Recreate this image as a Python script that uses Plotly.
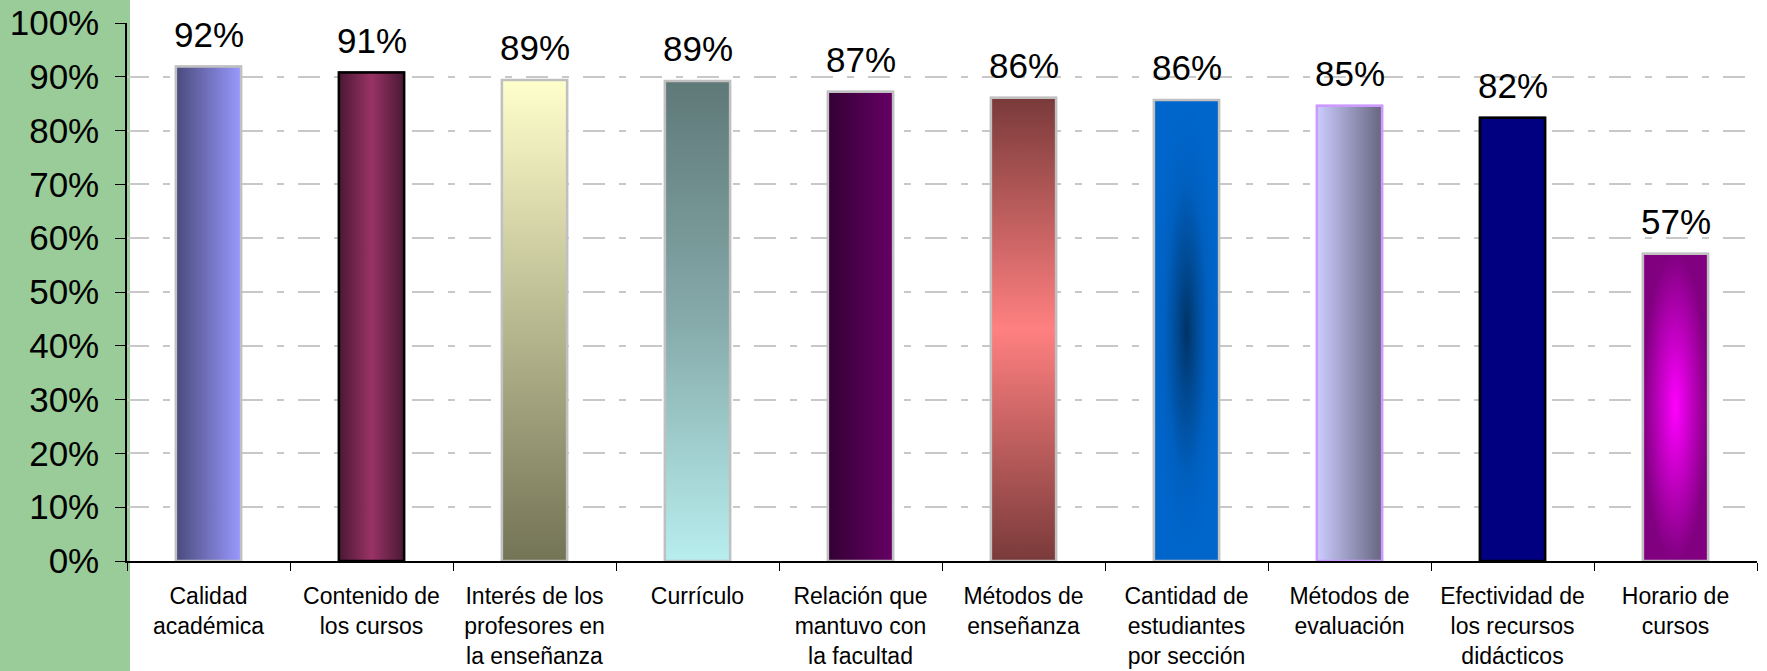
import plotly.graph_objects as go

# ---------------- data ----------------
categories = [
    "Calidad<br>académica",
    "Contenido de<br>los cursos",
    "Interés de los<br>profesores en<br>la enseñanza",
    "Currículo",
    "Relación que<br>mantuvo con<br>la facultad",
    "Métodos de<br>enseñanza",
    "Cantidad de<br>estudiantes<br>por sección",
    "Métodos de<br>evaluación",
    "Efectividad de<br>los recursos<br>didácticos",
    "Horario de<br>cursos",
]
values = [0.919, 0.908, 0.894, 0.892, 0.872, 0.861, 0.857, 0.846, 0.824, 0.571]

# ---------------- styles ----------------
base_colors = ["#7373BD", "#993366", "#BBBB99", "#8FB5B5", "#4D004D",
               "#C05A5A", "#0058B0", "#9999BF", "#000080", "#C000C0"]
border_colors = ["#C0C0C0", "#000000", "#C0C0C0", "#C0C0C0", "#C0C0C0",
                 "#C0C0C0", "#C0C0C0", "#CC99FF", "#000000", "#C0C0C0"]
gradient_types = ["horizontal", "horizontal", "vertical", "vertical", "horizontal",
                  "vertical", "radial", "horizontal", "none", "radial"]
gradient_scales = [
    [[0, "#4A4A7C"], [1, "#9999FF"]],
    [[0, "#4A1833"], [0.5, "#993366"], [1, "#4A1833"]],
    [[0, "#737356"], [1, "#FFFFCC"]],
    [[0, "#B8EEEE"], [0.5, "#86AAAA"], [1, "#5F7878"]],
    [[0, "#330033"], [1, "#660066"]],
    [[0, "#7A3A3A"], [0.5, "#FF8080"], [1, "#7A3A3A"]],
    [[0, "#003366"], [0.3, "#004A94"], [0.65, "#0060C0"], [1, "#0066CC"]],
    [[0, "#CCCCFF"], [1, "#666680"]],
    [[0, "#000080"], [1, "#000080"]],
    [[0, "#FF00FF"], [1, "#800080"]],
]
BAR_WIDTH = 0.4
FONT = "Liberation Sans, Arial, sans-serif"

W, H = 1767, 671
ML, MR, MT, MB = 127, 10, 23, 110
PW, PH = W - ML - MR, H - MT - MB

fig = go.Figure()

fig.add_trace(go.Bar(
    x=categories, y=values, width=BAR_WIDTH,
    marker=dict(color=base_colors, line=dict(color=border_colors, width=2)),
    hoverinfo="skip", showlegend=False,
))

# gradient fills laid over each bar (shape derived from the data values)
hw = BAR_WIDTH / 2
for i, v in enumerate(values):
    kw = {}
    if gradient_types[i] != "none":
        kw["fillgradient"] = dict(type=gradient_types[i], colorscale=gradient_scales[i])
    else:
        kw["fillcolor"] = base_colors[i]
    fig.add_trace(go.Scatter(
        x=[i - hw, i + hw, i + hw, i - hw, i - hw],
        y=[0, 0, v, v, 0],
        xaxis="x2", yaxis="y",
        mode="lines", fill="toself",
        line=dict(color=border_colors[i], width=2.5),
        hoverinfo="skip", showlegend=False, **kw,
    ))

# value labels
for c, v in zip(categories, values):
    fig.add_annotation(
        x=c, y=v, xref="x", yref="y",
        text=f"{round(v * 100)}%", showarrow=False,
        yanchor="bottom", yshift=11,
        font=dict(family=FONT, size=35, color="#000000"),
    )

# green left panel
fig.add_shape(
    type="rect", xref="paper", yref="paper",
    x0=-ML / PW, x1=3 / PW, y0=-MB / PH, y1=1 + MT / PH,
    fillcolor="#99CC99", line=dict(width=0), layer="below",
)

fig.update_layout(
    width=W, height=H,
    margin=dict(l=ML, r=MR, t=MT, b=MB, autoexpand=False),
    paper_bgcolor="#FFFFFF", plot_bgcolor="rgba(0,0,0,0)",
    bargap=0.6,
    font=dict(family=FONT, color="#000000"),
    xaxis=dict(
        type="category", range=[-0.5, len(categories) - 0.5],
        automargin=False,
        showline=True, linecolor="#000000", linewidth=1.5,
        ticks="outside", tickson="boundaries", ticklen=8, tickcolor="#000000",
        tickfont=dict(family=FONT, size=23, color="#000000"),
        ticklabelstandoff=14,
        showgrid=False, zeroline=False,
    ),
    xaxis2=dict(
        overlaying="x", anchor="y", range=[-0.5, len(categories) - 0.5],
        visible=False, automargin=False,
    ),
    yaxis=dict(
        range=[0, 1], dtick=0.1, tickformat=".0%",
        automargin=False,
        showline=True, linecolor="#000000", linewidth=1.5,
        ticks="outside", ticklen=10, tickcolor="#000000",
        tickfont=dict(family=FONT, size=35, color="#000000"),
        ticklabelstandoff=9,
        showgrid=True, gridcolor="#C8C8C8", gridwidth=1.5,
        griddash="22px,14px,7px,14px",
        zeroline=False,
    ),
)

fig.write_html(
    "out.html",
    config={"displayModeBar": False},
    post_script="document.body.style.margin='0';document.body.style.overflow='hidden';",
)
